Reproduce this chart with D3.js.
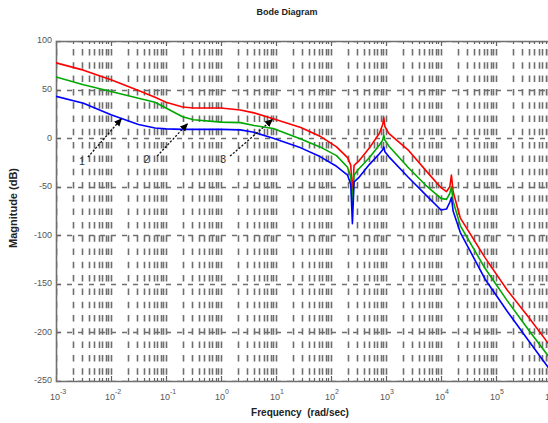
<!DOCTYPE html>
<html><head><meta charset="utf-8">
<script src="https://cdn.jsdelivr.net/npm/d3@7"></script>
<style>
html,body{margin:0;padding:0;background:#fff;}
svg{display:block;font-family:"Liberation Sans",Arial,sans-serif;}
</style></head>
<body>
<svg id="chart" width="548" height="423"></svg>
<script>
// ---- data ----
const freq = [1e-3, 3.16e-3, 1e-2, 3.16e-2, 6.31e-2, 0.1, 0.2, 0.316, 1, 2.24, 3.98, 8.91,
  28.2, 63.1, 126, 200, 229, 245, 263, 316, 501, 759, 871, 912, 955, 1122, 2512, 5623,
  1e4, 12589, 14454, 15488, 16596, 22387, 63096, 158489, 398107, 1e6];
const magRed = [77.5, 70, 60, 49, 42, 37, 32, 31, 31, 29, 26, 20,
  11, 2, -9, -20, -28, -58, -28, -24, -10, 5, 14, 21, 12, 5, -12, -35,
  -51, -55, -50, -38, -55, -82, -123, -156, -185, -215];
const magGreen = [63, 55, 48, 41, 37, 31, 22, 19, 16.5, 16, 13, 10,
  -1, -9, -18, -30, -40, -71, -38, -32, -20, -7, -2, 3, -2, -8, -30, -50,
  -62, -63, -57, -50, -65, -90, -134, -167, -198, -228];
const magBlue = [43, 36, 24, 14, 10.5, 9.5, 9, 9, 9, 8.5, 6, 0,
  -10, -19, -29, -38, -48, -88, -45, -41, -27, -16, -12, -9, -14, -19, -40, -60,
  -74, -73, -66, -61, -75, -97, -145, -178, -209, -240];
const seriesNames = ["red", "green", "blue"];
const seriesColors = ["#ff0000", "#00a800", "#0000ff"];
const yTicks = [100, 50, 0, -50, -100, -150, -200, -250];
const xDecades = [-3, -2, -1, 0, 1, 2, 3, 4, 5, 6];
// annotation arrows: [freq, dB] tail -> head
const arrowTail = [[0.0038, -19.6], [0.069, -18.5], [1.46, -18.5]];
const arrowHead = [[0.0158, 20.6], [0.251, 15.4], [8.8, 19.6]];
const arrowLabel = ["1", "2", "3"];
const labelPos = [[0.00295, -24.5], [0.0447, -22.5], [1.09, -22.5]];

// ---- layout ----
const svg = d3.select("#chart");
const L = 56, R = 551, T = 41, B = 381;
const x = d3.scaleLog().domain([1e-3, 1e6]).range([L, R]);
const y = d3.scaleLinear().domain([-250, 100]).range([B, T]);

const defs = svg.append("defs");
defs.append("clipPath").attr("id", "clip")
  .append("rect").attr("x", L).attr("y", T).attr("width", R - L).attr("height", B - T);
const marker = defs.append("marker").attr("id", "arr")
  .attr("viewBox", "0 0 10 10").attr("refX", 10).attr("refY", 5)
  .attr("markerWidth", 8).attr("markerHeight", 8).attr("markerUnits", "userSpaceOnUse")
  .attr("orient", "auto");
marker.append("path").attr("d", "M0,0.5 L10,5 L0,9.5 Z").attr("fill", "#000");

// grid
const minorVals = [];
xDecades.forEach(d => {
  for (let m = 1; m <= 9; m++) {
    const v = m * Math.pow(10, d);
    if (v <= 1e6 * 1.0001) minorVals.push(v);
  }
});
const grid = svg.append("g").attr("clip-path", "url(#clip)");
grid.selectAll("line.v").data(minorVals).join("line")
  .attr("x1", d => Math.round(x(d)) + 0.5).attr("x2", d => Math.round(x(d)) + 0.5)
  .attr("y1", T).attr("y2", B)
  .attr("stroke", "#6e6e6e").attr("stroke-width", 1.6)
  .attr("stroke-dasharray", "6.5,6.8").attr("stroke-dashoffset", -8);
grid.selectAll("line.h").data(yTicks).join("line")
  .attr("x1", L).attr("x2", R)
  .attr("y1", d => Math.round(y(d)) + 0.5).attr("y2", d => Math.round(y(d)) + 0.5)
  .attr("stroke", "#6e6e6e").attr("stroke-width", 1.4)
  .attr("stroke-dasharray", "5,6");

// ticks (inward)
const tk = svg.append("g").attr("stroke", "#606060").attr("stroke-width", 1.2);
minorVals.forEach(v => {
  const major = xDecades.some(d => Math.abs(v - Math.pow(10, d)) < 1e-9 * Math.pow(10, d) + 1e-12);
  const len = major ? 5 : 3;
  const xx = Math.round(x(v)) + 0.5;
  tk.append("line").attr("x1", xx).attr("x2", xx).attr("y1", B).attr("y2", B - len);
  tk.append("line").attr("x1", xx).attr("x2", xx).attr("y1", T).attr("y2", T + len);
});
yTicks.forEach(v => {
  const yy = Math.round(y(v)) + 0.5;
  tk.append("line").attr("x1", L).attr("x2", L + 5).attr("y1", yy).attr("y2", yy);
});

// frame
svg.append("path")
  .attr("d", `M${R},${T + 0.5}H${L + 0.5}V${B + 0.5}H${R}`)
  .attr("fill", "none").attr("stroke", "#707070").attr("stroke-width", 1.6);

// curves
const allMags = [magRed, magGreen, magBlue];
const line = d3.line().x(d => x(d[0])).y(d => y(d[1]));
const curves = svg.append("g").attr("clip-path", "url(#clip)");
allMags.forEach((mags, i) => {
  curves.append("path")
    .datum(freq.map((f, j) => [f, mags[j]]))
    .attr("d", line).attr("fill", "none")
    .attr("stroke", seriesColors[i]).attr("stroke-width", 1.6)
    .attr("stroke-linejoin", "round");
});

// arrows
const ann = svg.append("g");
arrowTail.forEach((t, i) => {
  ann.append("line")
    .attr("x1", x(t[0])).attr("y1", y(t[1]))
    .attr("x2", x(arrowHead[i][0])).attr("y2", y(arrowHead[i][1]))
    .attr("stroke", "#111").attr("stroke-width", 1.3)
    .attr("stroke-dasharray", "2.2,1.6").attr("marker-end", "url(#arr)");
  ann.append("text").attr("x", x(labelPos[i][0])).attr("y", y(labelPos[i][1]))
    .attr("dominant-baseline", "middle").attr("text-anchor", "middle")
    .attr("font-size", 10.5).attr("fill", "#333").text(arrowLabel[i]);
});

// y tick labels
svg.append("g").selectAll("text").data(yTicks).join("text")
  .attr("x", L - 4).attr("y", d => y(d)).attr("dominant-baseline", "middle")
  .attr("text-anchor", "end").attr("font-size", 9).attr("fill", "#555")
  .text(d => d);

// x tick labels 10^n
const xl = svg.append("g").attr("fill", "#555");
xDecades.forEach(d => {
  const t = xl.append("text").attr("x", x(Math.pow(10, d)) - 6).attr("y", 400).attr("font-size", 9);
  t.append("tspan").text("10");
  t.append("tspan").attr("dy", -6).attr("font-size", 7).text(d);
});

// titles
svg.append("text").attr("x", 287).attr("y", 15).attr("text-anchor", "middle")
  .attr("font-size", 9).attr("font-weight", "bold").attr("fill", "#222").text("Bode Diagram");
svg.append("text").attr("x", 300).attr("y", 416).attr("text-anchor", "middle")
  .attr("font-size", 10).attr("font-weight", "bold").attr("fill", "#222")
  .attr("xml:space", "preserve").text("Frequency  (rad/sec)");
svg.append("text").attr("transform", "translate(17,208) rotate(-90)").attr("text-anchor", "middle")
  .attr("font-size", 11).attr("font-weight", "bold").attr("fill", "#222").text("Magnitude (dB)");
</script>
</body></html>
